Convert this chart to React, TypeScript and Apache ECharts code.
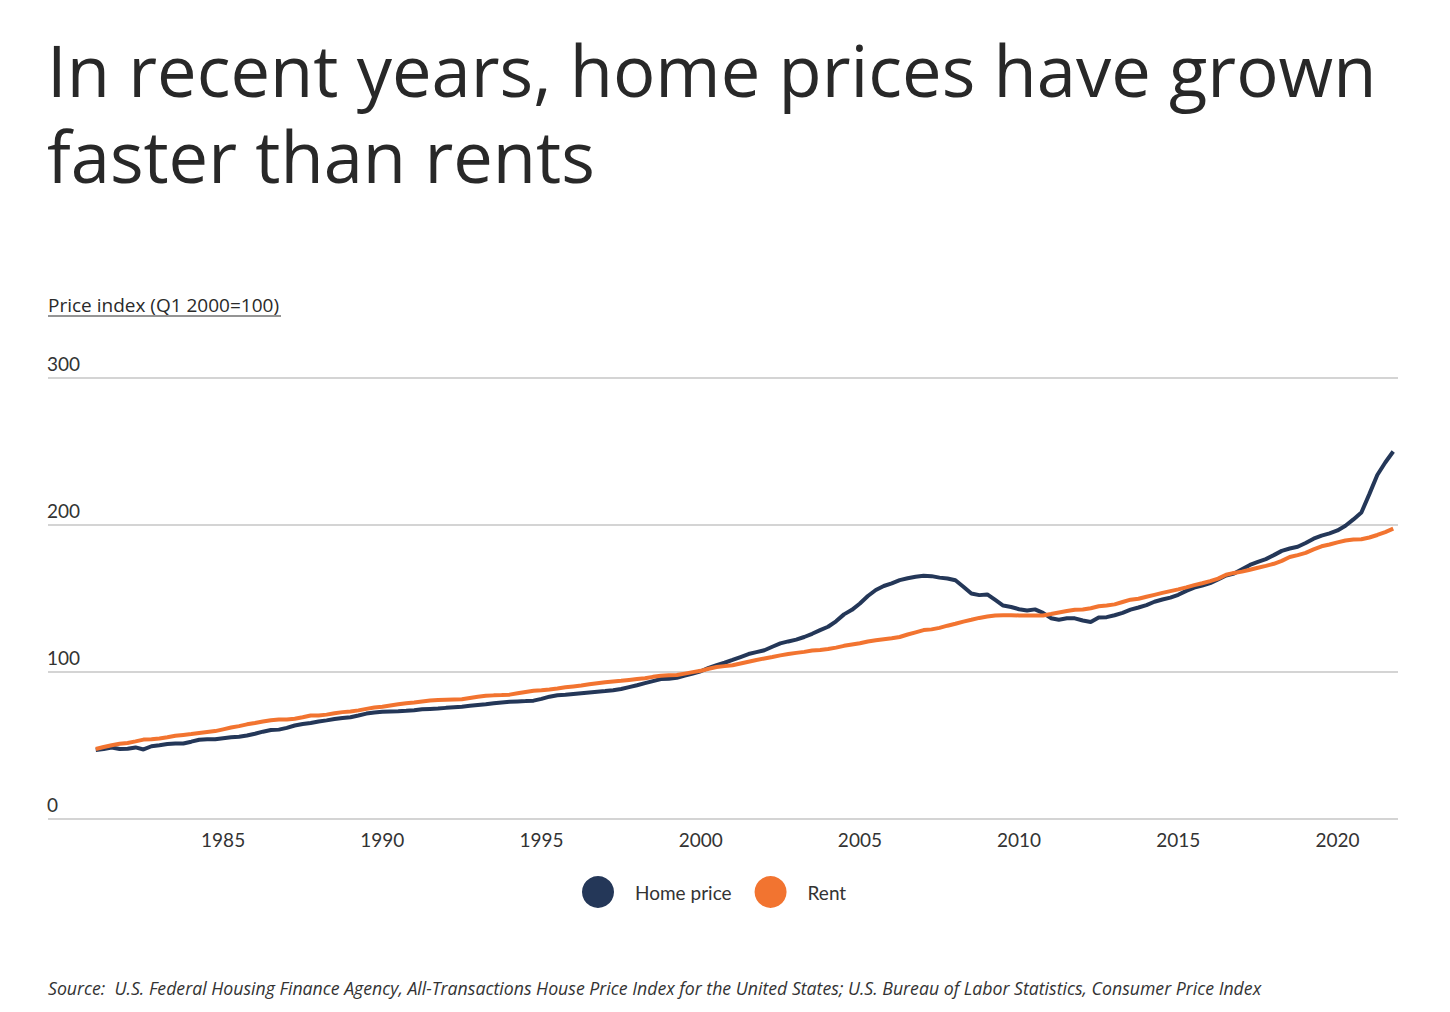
import React, { useEffect, useRef } from "react";
import * as echarts from "echarts";

const START_YEAR = 1981;
const homePrice: number[] = [
  47.0, 47.6, 48.6, 47.6,
  47.8, 48.7, 47.3, 49.5,
  50.2, 51.0, 51.4, 51.4,
  52.6, 53.9, 54.2, 54.3,
  55.0, 55.6, 56.0, 56.8,
  58.0, 59.4, 60.5, 60.8,
  62.0, 63.6, 64.6, 65.3,
  66.3, 67.1, 68.0, 68.7,
  69.2, 70.4, 71.7, 72.5,
  73.0, 73.2, 73.3, 73.6,
  74.0, 74.6, 74.9, 75.1,
  75.6, 76.0, 76.4, 77.0,
  77.6, 78.1, 78.7, 79.3,
  79.7, 80.0, 80.2, 80.5,
  81.7, 83.2, 84.2, 84.6,
  85.1, 85.6, 86.1, 86.6,
  87.0, 87.6, 88.4, 89.7,
  91.0, 92.4, 93.8, 95.2,
  95.4, 96.0, 97.5, 99.0,
  100.5, 102.8, 104.6, 106.3,
  108.2, 110.2, 112.2, 113.5,
  114.8, 117.2, 119.5, 120.8,
  122.0, 123.8, 126.0, 128.5,
  130.8, 134.5, 139.2, 142.3,
  146.6, 151.7, 155.8, 158.5,
  160.3, 162.5, 163.8, 164.8,
  165.4, 165.2, 164.2, 163.6,
  162.4, 158.0, 153.4, 152.3,
  152.8, 149.0, 145.2, 144.2,
  142.7, 141.8, 142.6, 140.2,
  136.6, 135.6, 136.5, 136.5,
  135.0, 134.0, 137.0, 137.3,
  138.6, 140.2, 142.4, 143.9,
  145.5, 147.8, 149.3, 150.6,
  152.5, 155.2, 157.4, 158.8,
  160.5, 162.9, 165.6, 167.0,
  169.9, 172.8, 174.9, 176.8,
  179.5, 182.4, 184.0, 185.2,
  187.8, 190.7, 192.8, 194.3,
  196.3, 199.5, 203.8, 208.5,
  221.0, 234.0, 242.5, 250.0,
];
const rent: number[] = [
  47.6, 49.0, 50.2, 51.2,
  51.7, 52.8, 54.0, 54.3,
  54.8, 55.6, 56.6, 57.2,
  57.8, 58.5, 59.2, 59.8,
  61.0, 62.2, 63.2, 64.4,
  65.3, 66.3, 67.2, 67.7,
  67.7, 68.2, 69.2, 70.4,
  70.4, 71.0, 72.0, 72.7,
  73.2, 73.9, 74.9, 75.8,
  76.4, 77.2, 78.0, 78.8,
  79.3, 80.0, 80.6, 81.0,
  81.2, 81.3, 81.4, 82.3,
  83.2, 83.8, 84.1, 84.3,
  84.6, 85.5, 86.4, 87.2,
  87.6, 88.1, 88.8, 89.6,
  90.2, 90.8, 91.6, 92.4,
  93.1, 93.6, 94.0, 94.6,
  95.2, 95.8, 96.7, 97.5,
  97.8, 97.9, 98.9, 99.9,
  100.8, 102.2, 103.4, 104.0,
  104.6, 105.8, 107.0, 108.2,
  109.2, 110.2, 111.3, 112.2,
  113.0, 113.7, 114.6, 115.0,
  115.6, 116.6, 117.8, 118.7,
  119.6, 120.8, 121.6, 122.3,
  123.0, 123.8, 125.5, 127.0,
  128.5, 129.0, 130.0, 131.5,
  132.8, 134.3, 135.5, 136.8,
  137.7, 138.5, 138.6, 138.6,
  138.5, 138.4, 138.4, 138.5,
  139.4, 140.5, 141.5, 142.4,
  142.5, 143.4, 144.7, 145.3,
  146.0, 147.6, 149.2, 149.8,
  151.2, 152.5, 153.8, 155.0,
  156.2, 157.6, 159.1, 160.4,
  161.8, 163.5, 166.2, 167.4,
  168.3, 169.6, 170.9, 172.2,
  173.6, 175.6, 178.2, 179.5,
  181.0, 183.4, 185.5, 186.7,
  188.2, 189.5, 190.2, 190.3,
  191.5, 193.2, 195.2, 197.5,
];
const seriesNames = ["Home price", "Rent"];
const seriesColors = ["#243758", "#f27430"];
const yTicks = [0, 100, 200, 300];
const xTickYears = [1985, 1990, 1995, 2000, 2005, 2010, 2015, 2020];

const titleLines = ["In recent years, home prices have grown", "faster than rents"];
const yAxisTitle = "Price index (Q1 2000=100)";
const sourceText =
  "Source:  U.S. Federal Housing Finance Agency, All-Transactions House Price Index for the United States; U.S. Bureau of Labor Statistics, Consumer Price Index";

const FONT = "Lato, 'Open Sans', sans-serif";
const WIDE = "'Open Sans', Lato, sans-serif";

function toPairs(values: number[]) {
  return values.map((v, i) => [START_YEAR + i * 0.25, v]);
}

export default function App() {
  const ref = useRef<HTMLDivElement>(null);
  useEffect(() => {
    if (!ref.current) return;
    const chart = echarts.init(ref.current, undefined, { renderer: "svg" });
    chart.setOption({
      animation: false,
      backgroundColor: "#ffffff",
      textStyle: { fontFamily: FONT },
      grid: { left: 48, right: 52, top: 378, bottom: 193, containLabel: false },
      legend: {
        data: seriesNames,
        icon: "circle",
        itemWidth: 32,
        itemHeight: 32,
        itemGap: 23,
        left: 577,
        top: 871,
        textStyle: { fontSize: 19, color: "#333333", fontFamily: FONT, padding: [0, 0, 0, 16] },
      },
      xAxis: {
        type: "value",
        min: 1979.5,
        max: 2021.9,
        interval: 0.5,
        axisLine: { show: false },
        axisTick: { show: false },
        splitLine: { show: false },
        axisLabel: {
          fontSize: 19,
          color: "#333333",
          margin: 11,
          showMinLabel: false,
          showMaxLabel: false,
          formatter: (v: number) => {
            const r = Math.round(v);
            return Math.abs(v - r) < 1e-6 && xTickYears.includes(r) ? String(r) : "";
          },
        },
      },
      yAxis: {
        type: "value",
        min: yTicks[0],
        max: yTicks[yTicks.length - 1],
        interval: 100,
        axisLine: { show: false },
        axisTick: { show: false },
        splitLine: { lineStyle: { color: "#d4d4d4", width: 2 } },
        axisLabel: {
          inside: true,
          margin: -1,
          fontSize: 19,
          color: "#333333",
          verticalAlign: "bottom",
          padding: [0, 0, 5, 0],
        },
      },
      graphic: [
        {
          type: "text",
          x: 47,
          y: 113,
          style: {
            text: titleLines.join("\n"),
            font: `400 70.5px ${WIDE}`,
            lineHeight: 86,
            fill: "#282828",
            verticalAlign: "middle",
          },
        },
        {
          type: "text",
          x: 48,
          y: 305,
          style: {
            text: yAxisTitle,
            font: `400 19px ${WIDE}`,
            fill: "#2a2a2a",
            verticalAlign: "middle",
          },
        },
        {
          type: "line",
          shape: { x1: 48, y1: 316, x2: 281, y2: 316 },
          style: { stroke: "#2a2a2a", lineWidth: 1.2 },
        },
        {
          type: "text",
          x: 48,
          y: 988,
          style: {
            text: sourceText,
            font: `italic 400 17.7px ${WIDE}`,
            fill: "#333333",
            verticalAlign: "middle",
          },
        },
      ],
      series: [
        {
          name: seriesNames[0],
          type: "line",
          data: toPairs(homePrice),
          showSymbol: false,
          symbol: "circle",
          color: seriesColors[0],
          lineStyle: { color: seriesColors[0], width: 4 },
        },
        {
          name: seriesNames[1],
          type: "line",
          data: toPairs(rent),
          showSymbol: false,
          symbol: "circle",
          color: seriesColors[1],
          lineStyle: { color: seriesColors[1], width: 4 },
        },
      ],
    });
    return () => chart.dispose();
  }, []);
  return (
    <div
      ref={ref}
      style={{ position: "absolute", left: 0, top: 0, width: 1450, height: 1012 }}
    />
  );
}
